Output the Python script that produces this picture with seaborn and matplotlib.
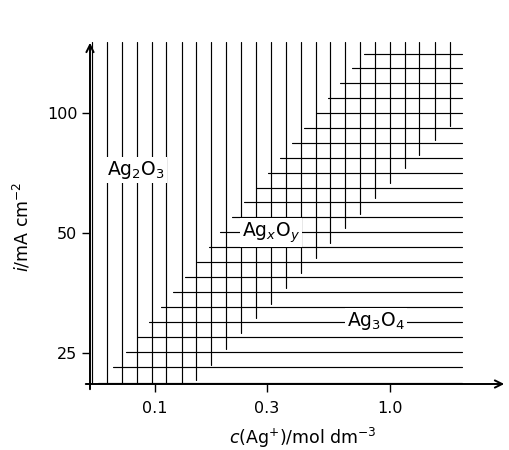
import seaborn as sns
import matplotlib.pyplot as plt
import pandas as pd
import numpy as np

# vertical lines (Ag2O3 hatching): concentration and lower end of each line
conc_lines = [0.054, 0.0625, 0.0724, 0.0837, 0.0969, 0.112, 0.130, 0.150, 0.174,
              0.201, 0.233, 0.270, 0.312, 0.361, 0.418, 0.484, 0.560, 0.648,
              0.750, 0.868, 1.00, 1.16, 1.34, 1.56, 1.80]
conc_line_bottom = [20.9, 20.9, 20.9, 20.9, 20.9, 20.9, 20.9, 21.4, 23.3,
                    25.6, 28.1, 30.6, 33.1, 36.4, 39.6, 43.2, 47.1, 51.3,
                    55.6, 61.0, 66.5, 72.5, 78.5, 85.6, 92.8]
conc_line_top = 150

# horizontal lines (Ag3O4 hatching): current density and left start of each line
curr_lines = [140.2, 129.0, 118.4, 108.6, 99.8, 91.6, 84.0, 77.2, 70.7, 64.9,
              59.6, 54.8, 50.2, 46.1, 42.3, 38.8, 35.6, 32.6, 29.9, 27.4,
              25.1, 23.1, 21.1]
curr_line_start = [0.778, 0.691, 0.615, 0.547, 0.486, 0.432, 0.384, 0.341,
                   0.303, 0.270, 0.240, 0.213, 0.190, 0.170, 0.151, 0.1345,
                   0.1196, 0.1063, 0.0945, 0.0840, 0.0754, 0.0664, 0.0571]
curr_line_end = 2.03

x_ticks = [0.1, 0.3, 1.0]
x_tick_labels = ["0.1", "0.3", "1.0"]
y_ticks = [25, 50, 100]
y_tick_labels = ["25", "50", "100"]

regions = ["Ag$_2$O$_3$", "Ag$_x$O$_y$", "Ag$_3$O$_4$"]
region_c = [0.0832, 0.313, 0.875]
region_i = [71.7, 50.1, 30.1]

# long-form table of segments
rows = []
for n, (c, b) in enumerate(zip(conc_lines, conc_line_bottom)):
    rows.append({"c": c, "i": b, "seg": f"v{n}"})
    rows.append({"c": c, "i": conc_line_top, "seg": f"v{n}"})
for n, (i, s) in enumerate(zip(curr_lines, curr_line_start)):
    rows.append({"c": s, "i": i, "seg": f"h{n}"})
    rows.append({"c": curr_line_end, "i": i, "seg": f"h{n}"})
segs = pd.DataFrame(rows)

sns.set_theme(style="white")
plt.rcParams['font.family'] = ['DejaVu Sans']
plt.rcParams['mathtext.fontset'] = 'dejavusans'
plt.rcParams['text.color'] = 'black'

fig = plt.figure(figsize=(5.09, 4.5), dpi=100)
ax = fig.add_axes([90 / 509, 1 - 384 / 450, 417 / 509, 344 / 450])
ax.set_xscale('log')
ax.set_yscale('log')
ax.set_xlim(0.0530, 3.16)
ax.set_ylim(20.92, 152)

sns.lineplot(data=segs, x="c", y="i", units="seg", estimator=None, sort=False,
             color="black", lw=0.85, ax=ax)

for lab, c, i in zip(regions, region_c, region_i):
    ax.text(c, i, lab, ha="center", va="center", fontsize=13.5, color="black",
            bbox=dict(facecolor="white", edgecolor="none", pad=1.5))

for s in ax.spines.values():
    s.set_visible(False)
ax.annotate("", xy=(1, 0), xytext=(-7 / 417, 0), xycoords="axes fraction",
            arrowprops=dict(arrowstyle="->", lw=1.4, color="black", mutation_scale=13))
ax.annotate("", xy=(0, 1), xytext=(0, -8 / 344), xycoords="axes fraction",
            arrowprops=dict(arrowstyle="->", lw=1.4, color="black", mutation_scale=13))

ax.xaxis.set_major_locator(plt.FixedLocator(x_ticks))
ax.xaxis.set_minor_locator(plt.NullLocator())
ax.set_xticklabels(x_tick_labels)
ax.yaxis.set_major_locator(plt.FixedLocator(y_ticks))
ax.yaxis.set_minor_locator(plt.NullLocator())
ax.set_yticklabels(y_tick_labels)
ax.tick_params(axis="both", direction="out", length=6, width=1, color="black",
               labelsize=11.5, labelcolor="black", bottom=True, left=True)
ax.tick_params(axis="x", pad=6)
ax.tick_params(axis="y", pad=3)

ax.set_xlabel(r"$c$(Ag$^{+}$)/mol dm$^{-3}$", fontsize=12.5, color="black")
ax.set_ylabel(r"$i$/mA cm$^{-2}$", fontsize=12.5, color="black")
ax.xaxis.label.set_verticalalignment("center")
ax.yaxis.label.set_verticalalignment("center")
ax.xaxis.set_label_coords(0.511, -0.157)
ax.yaxis.set_label_coords(-0.163, 0.456)

fig.savefig("out.png", dpi=100)
